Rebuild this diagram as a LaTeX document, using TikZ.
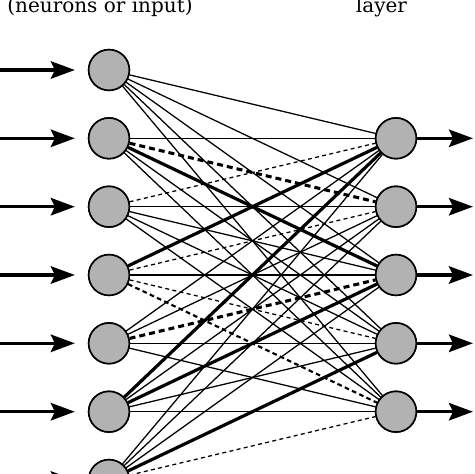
\documentclass[tikz,border=0pt]{standalone}
\usepackage{fontspec}
\setmainfont{DejaVu Serif}
\usetikzlibrary{arrows.meta}
\definecolor{nodegray}{RGB}{178,178,178}
\begin{document}
\begin{tikzpicture}[x=0.75pt,y=-0.75pt,
  neuron/.style={circle,draw=black,line width=1.2pt,fill=nodegray,minimum size=30.5pt,inner sep=0pt},
  io/.style={line width=2.6pt,-{Stealth[length=18pt,width=13pt,inset=3pt]}},
  wthin/.style={line width=0.95pt},
  wthick/.style={line width=2.4pt},
  wthindash/.style={line width=0.95pt,dash pattern=on 3pt off 2.5pt},
  wthickdash/.style={line width=2.3pt,dash pattern=on 4.5pt off 3pt},
  wmiddash/.style={line width=1.6pt,dash pattern=on 3.5pt off 2.5pt},
  toptext/.style={font=\fontsize{15pt}{18pt}\selectfont,anchor=base,inner sep=0pt}
]
\useasboundingbox (0,0) rectangle (474,474);
\clip (0,0) rectangle (474,474);

\node[toptext] (t1) at (100,13) {(neurons or input)};
\node[toptext] (t2) at (381.5,13) {layer};

% left layer
\foreach \i/\y in {1/70,2/138.3,3/206.7,4/275,5/343.3,6/411.7,7/480}{
  \node[neuron] (L\i) at (109,\y) {};
  \coordinate (a\i) at (0,\y);
}
% right layer
\foreach \j/\y in {1/138.3,2/206.7,3/275,4/343.3,5/411.7}{
  \node[neuron] (R\j) at (396,\y) {};
  \coordinate (o\j) at (473,\y);
}

% connections
\foreach \i/\j/\s in {
  1/1/wthin,1/2/wthin,1/3/wthin,1/4/wthin,1/5/wthin,
  2/1/wthin,2/2/wthickdash,2/3/wthick,2/4/wthin,2/5/wthin,
  3/1/wthindash,3/2/wthin,3/3/wthin,3/4/wthin,3/5/wthin,
  4/1/wthick,4/2/wthindash,4/3/wthin,4/4/wthindash,4/5/wmiddash,
  5/1/wthin,5/2/wthin,5/3/wthickdash,5/4/wthin,5/5/wthin,
  6/1/wthick,6/2/wthin,6/3/wthick,6/4/wthin,6/5/wthin,
  7/1/wthin,7/2/wthin,7/3/wthin,7/4/wthick,7/5/wthindash}{
  \draw[\s] (L\i) -- (R\j);
}

% redraw nodes on top
\foreach \i/\y in {1/70,2/138.3,3/206.7,4/275,5/343.3,6/411.7,7/480}{
  \node[neuron] at (109,\y) {};
}
\foreach \j/\y in {1/138.3,2/206.7,3/275,4/343.3,5/411.7}{
  \node[neuron] at (396,\y) {};
}

% input arrows
\foreach \i in {1,...,7}{
  \draw[io,shorten >=9.75pt] (a\i) -- (L\i);
}
% output arrows
\foreach \j in {1,...,5}{
  \draw[io] (R\j) -- (o\j);
}
\end{tikzpicture}
\end{document}
